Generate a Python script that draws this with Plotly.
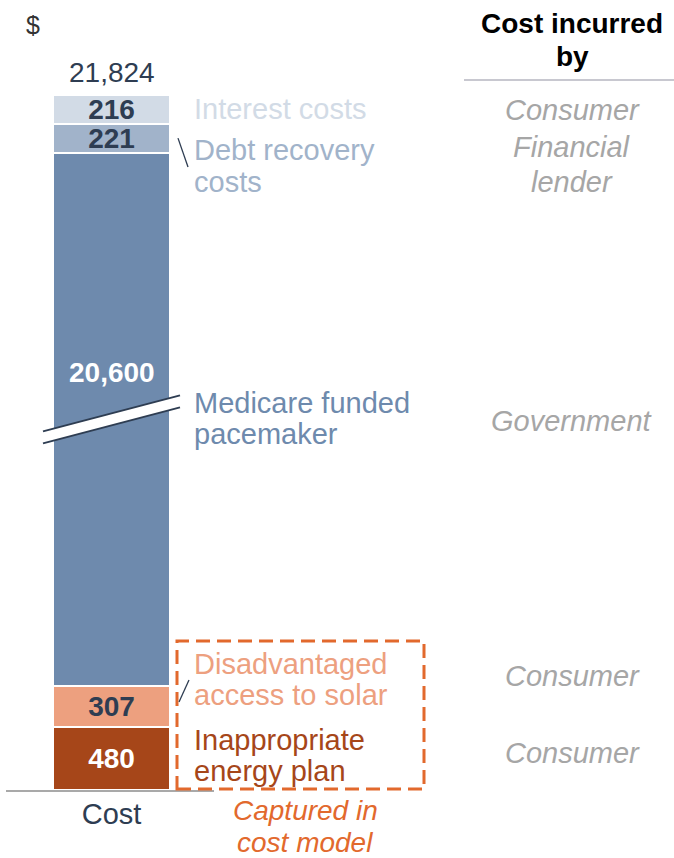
import plotly.graph_objects as go

# Cost components, stacked from the bottom of the bar to the top
COMPONENTS = [
    "Inappropriate energy plan",
    "Disadvantaged access to solar",
    "Medicare funded pacemaker",
    "Debt recovery costs",
    "Interest costs",
]
VALUES = [480, 307, 20600, 221, 216]
SEGMENT_COLORS = ["#A64619", "#EDA07F", "#6E8AAD", "#A1B3CA", "#D2DBE6"]
VALUE_TEXT_COLORS = ["#FFFFFF", "#2E3D52", "#FFFFFF", "#2E3D52", "#2E3D52"]
LABEL_LINES = [
    ["Inappropriate", "energy plan"],
    ["Disadvantaged", "access to solar"],
    ["Medicare funded", "pacemaker"],
    ["Debt recovery", "costs"],
    ["Interest costs"],
]
PAYERS = [["Consumer"], ["Consumer"], ["Government"], ["Financial", "lender"], ["Consumer"]]
CATEGORY = "Cost"
BROKEN_INDEX = 2          # the pacemaker segment is drawn with an axis break
AXIS_BREAK = 16560        # amount left out of the pacemaker segment at the break

# ---- page geometry (pixels) ----
W, H = 674, 858
BASE_PX = 790             # baseline row
TOP_PX = 95               # top of the stack
PLOT_BOTTOM_PX = 792
BAR_X = 111.5
BAR_W = 117

FONT = "Liberation Sans, Arial, sans-serif"
NAVY = "#2E3D52"
GREY_TEXT = "#A6A6A6"
ORANGE = "#E2692D"
LABEL_SIZE = 29

shown = [v - AXIS_BREAK if i == BROKEN_INDEX else v for i, v in enumerate(VALUES)]
K = (BASE_PX - TOP_PX) / sum(shown)   # pixels per unit


def ypx(p):
    """Convert a pixel row into y-axis units."""
    return (BASE_PX - p) / K


def ypaper(p):
    """Convert a pixel row into paper units (plot area spans rows 0..PLOT_BOTTOM_PX)."""
    return (PLOT_BOTTOM_PX - p) / PLOT_BOTTOM_PX


fig = go.Figure()

for i, (name, val, disp, col, tcol) in enumerate(
        zip(COMPONENTS, VALUES, shown, SEGMENT_COLORS, VALUE_TEXT_COLORS)):
    fig.add_trace(go.Bar(
        x=[BAR_X], y=[disp], width=BAR_W, name=name,
        marker=dict(color=col, line=dict(color="white", width=2)),
        # the broken segment gets its value label above the break instead
        text=[f"{val:,}" if i != BROKEN_INDEX else ""],
        textposition="inside", insidetextanchor="middle",
        constraintext="none", textangle=0,
        textfont=dict(family=FONT, size=28, color=tcol, weight="bold"),
        hoverinfo="skip", showlegend=False,
    ))

# segment boundaries in axis units
bounds = [0]
for d in shown:
    bounds.append(bounds[-1] + d)
centers = [(a + b) / 2 for a, b in zip(bounds[:-1], bounds[1:])]

annotations = []


def txt(x, y, s, size=LABEL_SIZE, color=NAVY, xanchor="left", bold=False, italic=False,
        yshift=0, yref="y"):
    annotations.append(dict(
        x=x, y=y, xref="x", yref=yref, text=s, showarrow=False,
        xanchor=xanchor, yanchor="middle", yshift=yshift,
        font=dict(family=FONT, size=size, color=color,
                  weight="bold" if bold else "normal",
                  style="italic" if italic else "normal"),
    ))


# total above the stack
txt(BAR_X, bounds[-1], f"{sum(VALUES):,}", size=28, xanchor="center", yshift=23)

# value of the broken segment, set above the break mark
txt(BAR_X, centers[BROKEN_INDEX], f"{VALUES[BROKEN_INDEX]:,}", size=28,
    color=VALUE_TEXT_COLORS[BROKEN_INDEX], xanchor="center", bold=True, yshift=47)

# component labels, one row per text line (pixel rows)
LABEL_ROWS = [[740, 771], [664, 695], [403, 434], [150, 182], [109]]
for lines, rows, col in zip(LABEL_LINES, LABEL_ROWS, SEGMENT_COLORS):
    for line, r in zip(lines, rows):
        txt(192, ypx(r), line, color=col)

# who bears each cost
PAYER_ROWS = [[753], [676], [421], [147, 182], [110]]
for lines, rows in zip(PAYERS, PAYER_ROWS):
    for line, r in zip(lines, rows):
        txt(572, ypx(r), line, color=GREY_TEXT, xanchor="center", italic=True)

txt(572, ypx(23), "Cost incurred", size=28, color="#000000", xanchor="center", bold=True)
txt(572, ypx(56), "by", size=28, color="#000000", xanchor="center", bold=True)
txt(33, ypx(25), "$", size=25, color="#333333", xanchor="center")
# caption under the dashed frame (below the plot area, so placed in paper units)
txt(305, ypaper(810), "Captured in", size=28, color=ORANGE, xanchor="center", italic=True,
    yref="paper")
txt(305, ypaper(842), "cost model", size=28, color=ORANGE, xanchor="center", italic=True,
    yref="paper")

# ---- shapes ----
shapes = []
# baseline under the bar
shapes.append(dict(type="line", xref="x", yref="y", x0=6, x1=214, y0=ypx(791), y1=ypx(791),
                   line=dict(color="#8C8C8C", width=1.5)))
# header rule
shapes.append(dict(type="line", xref="x", yref="y", x0=464, x1=674, y0=ypx(80), y1=ypx(80),
                   line=dict(color="#C8C8D0", width=2)))
# dashed frame round the components captured in the cost model
shapes.append(dict(type="rect", xref="x", yref="y", x0=177, x1=424, y0=ypx(789), y1=ypx(641),
                   line=dict(color=ORANGE, width=3, dash="14px,7px"), fillcolor="rgba(0,0,0,0)"))
# leader lines
shapes.append(dict(type="line", xref="x", yref="y", x0=178, x1=188, y0=centers[3], y1=ypx(167),
                   line=dict(color=NAVY, width=1.3)))
shapes.append(dict(type="line", xref="x", yref="y", x0=179, x1=189, y0=ypx(702), y1=ypx(680),
                   line=dict(color=NAVY, width=1.3)))

# axis-break mark through the middle of the pacemaker segment
bc = centers[BROKEN_INDEX]
half_w, rise, gap = 68.5, 18 / K, 6 / K
xl, xr = BAR_X - half_w, BAR_X + half_w
path = (f"M {xl},{bc - rise + gap} L {xr},{bc + rise + gap} "
        f"L {xr},{bc + rise - gap} L {xl},{bc - rise - gap} Z")
shapes.append(dict(type="path", xref="x", yref="y", path=path, fillcolor="white",
                   line=dict(width=0), layer="above"))
for s in (gap, -gap):
    shapes.append(dict(type="line", xref="x", yref="y", x0=xl, x1=xr,
                       y0=bc - rise + s, y1=bc + rise + s,
                       line=dict(color=NAVY, width=2)))

fig.update_layout(
    width=W, height=H,
    margin=dict(l=0, r=0, t=0, b=H - PLOT_BOTTOM_PX),
    paper_bgcolor="white", plot_bgcolor="white",
    barmode="stack", bargap=0,
    xaxis=dict(range=[0, W], tickvals=[BAR_X], ticktext=[CATEGORY],
               tickfont=dict(family=FONT, size=LABEL_SIZE, color=NAVY),
               ticks="", showgrid=False, zeroline=False, showline=False,
               ticklabelstandoff=2),
    yaxis=dict(range=[ypx(PLOT_BOTTOM_PX), ypx(0)], visible=False, showgrid=False),
    annotations=annotations,
    shapes=shapes,
)

fig.write_html("out.html")
